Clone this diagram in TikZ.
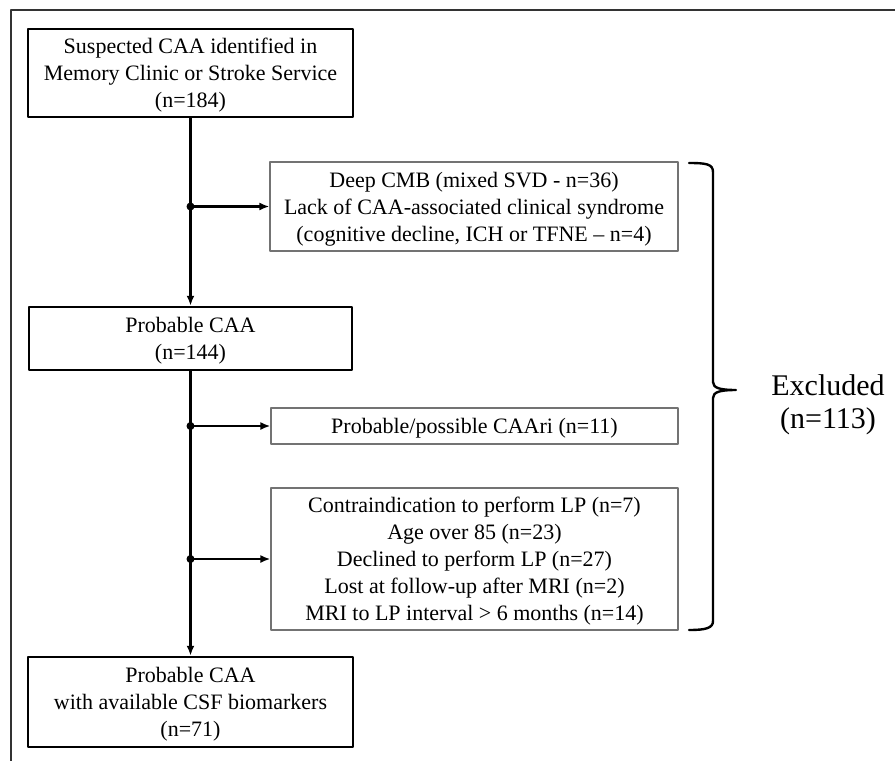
\documentclass[tikz,border=0pt]{standalone}
\usepackage{fontspec}
\setmainfont{Liberation Serif}
\usetikzlibrary{arrows.meta}

\begin{document}
\begin{tikzpicture}[x=1pt,y=-1pt,line join=round,
    mainbox/.style={draw=black,line width=2.5pt,inner sep=0pt,align=center,
      text depth=-4pt,font=\fontsize{22}{27}\selectfont},
    exclbox/.style={draw=black!55,line width=1.2pt,inner sep=0pt,align=center,
      text depth=-2pt,font=\fontsize{22}{27}\selectfont},
    flow/.style={line width=2.4pt,-{Latex[length=10pt,width=8pt]}},
    splitdot/.style={fill=black}]
  \useasboundingbox (0,0) rectangle (895,761);
  % Cornice esterna (tagliata a destra e in basso).
  \draw[black!80,line width=2.2pt] (11,770) -- (11,10) -- (905,10);

  % Percorso principale.
  \node[mainbox,minimum width=325pt,minimum height=88pt] (suspected) at (190.5,73)
    {Suspected CAA identified in\\Memory Clinic or Stroke Service\\(n=184)};
  \node[mainbox,minimum width=323pt,minimum height=63pt] (probable) at (190.5,338.5)
    {Probable CAA\\(n=144)};
  \node[mainbox,minimum width=325pt,minimum height=90pt] (csf) at (190.5,702)
    {Probable CAA\\with available CSF biomarkers\\(n=71)};

  % Esclusioni.
  \node[exclbox,minimum width=408pt,minimum height=89pt] (cmb) at (474,206.5)
    {Deep CMB (mixed SVD - n=36)\\Lack of CAA-associated clinical syndrome\\(cognitive decline, ICH or TFNE -- n=4)};
  \node[exclbox,minimum width=407pt,minimum height=36pt] (caari) at (474.5,426)
    {Probable/possible CAAri (n=11)};
  \node[exclbox,minimum width=407pt,minimum height=142pt] (lp) at (474.5,559)
    {Contraindication to perform LP (n=7)\\Age over 85 (n=23)\\Declined to perform LP (n=27)\\
     Lost at follow-up after MRI (n=2)\\MRI to LP interval > 6 months (n=14)};

  \draw[flow] (suspected) -- (probable);
  \draw[flow] (probable) -- (csf);
  \foreach \target/\name in {cmb/split1,caari/split2,lp/split3}{
    \coordinate (\name) at (suspected.south |- \target.west);
    \fill[splitdot] (\name) circle (4pt);
    \draw[flow] (\name) -- (\target.west);
  }

  % Graffa e totale degli esclusi.
  \draw[line width=2.4pt,line cap=round]
    (689,163) .. controls (706,163) and (713,164) .. (713,172)
    -- (713,382) .. controls (713,388) and (720,390) .. (736,390)
    .. controls (720,390) and (713,392) .. (713,398)
    -- (713,621) .. controls (713,628) and (706,630) .. (689,630);
  \node[font=\fontsize{30}{33}\selectfont,align=center] (excluded) at (828,405)
    {Excluded\\(n=113)};
\end{tikzpicture}
\end{document}
